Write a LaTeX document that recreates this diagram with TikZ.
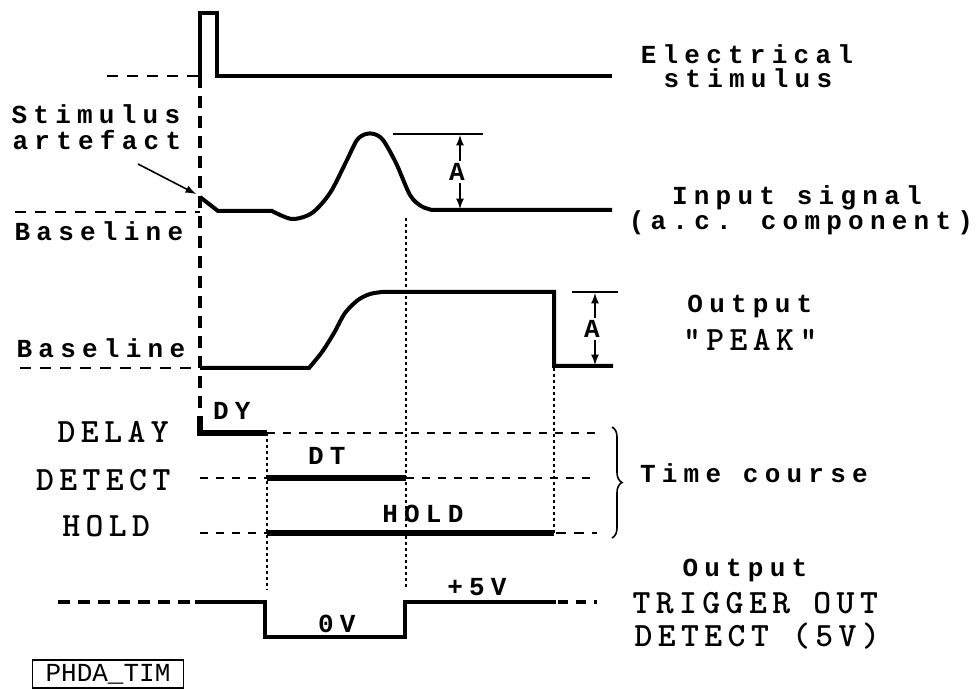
\documentclass[tikz,border=0pt]{standalone}
\usepackage{fontspec}
\usepackage{tikz}
\usetikzlibrary{arrows}
\usetikzlibrary{decorations.pathreplacing}
\newfontfamily\pixfont[LetterSpace=24]{Liberation Mono}
\newfontfamily\capfont[LetterSpace=16]{lmmonolt10-bold.otf}
\newfontfamily\tagfont{Liberation Mono}
\tikzstyle{trace}=[line width=2pt]
\tikzstyle{bar}=[line width=3pt]
\tikzstyle{zeroline}=[line width=1.1pt, dash pattern=on 5.5pt off 4.5pt]
\tikzstyle{onsetline}=[line width=2pt, dash pattern=on 6pt off 4pt]
\tikzstyle{rowline}=[line width=1pt, dash pattern=on 4pt off 4pt]
\tikzstyle{timeline}=[line width=0.8pt, dash pattern=on 1.5pt off 1.5pt]
\tikzstyle{txt}=[font=\pixfont\bfseries\fontsize{13}{15}\selectfont, inner sep=0pt, anchor=base, xshift=-1.55pt]
\tikzstyle{captxt}=[font=\capfont\fontsize{17}{19}\selectfont, inner sep=0pt, anchor=base, xshift=-1.4pt]
\tikzstyle{amp}=[font=\pixfont\bfseries\fontsize{13}{15}\selectfont, inner sep=1pt, fill=white, xshift=-1.55pt]

\begin{document}
\begin{tikzpicture}[x=0.5pt,y=-0.5pt]
    \useasboundingbox (0,0) rectangle (980,689);
    % electrical stimulus
    \draw[zeroline] (107,76) -- (200,76);
    \draw[trace] (200,76) -- (200,13) -- (217,13) -- (217,76) -- (612,76);
    \draw[onsetline] (200,76) -- (200,416);
    \node[txt] (stim1) at (750,64) {Electrical};
    \node[txt] (stim2) at (751,88) {stimulus};
    % input signal
    \draw[zeroline] (15,212) -- (200,212);
    \draw[trace] (200,197) -- (218,211) -- (272,211) -- plot[smooth, tension=0.5] coordinates {(272,211) (292,219) (312,213) (330,193) (346,162) (357,140) (366,134) (374,134) (383,140) (396,163) (410,195) (421,206) (432,210)} -- (612,210);
    \node[txt] (art1) at (99,124) {Stimulus};
    \node[txt] (art2) at (100,150) {artefact};
    \coordinate (tail) at (138,164);
    \coordinate (spike) at (196,194);
    \draw[line width=0.8pt, -latex] (tail) -- (spike);
    \node[txt] (base1) at (102,241) {Baseline};
    \node[txt] (in1) at (800,205) {Input signal};
    \node[txt] (in2) at (804,230) {(a.c. component)};
    \draw[line width=0.8pt] (393,134) -- (483,134);
    \draw[line width=0.8pt, latex-latex] (460,135) -- (460,209) node[midway, amp] (ampin) {A};
    % output peak
    \draw[zeroline] (20,368) -- (200,368);
    \draw[trace] (200,368) -- (309,368) -- plot[smooth, tension=0.5] coordinates {(309,368) (322,352) (334,333) (345,313) (358,300) (370,294) (382,292)} -- (554,292) -- (554,366) -- (613,366);
    \draw[line width=0.8pt] (572,292) -- (618,292);
    \draw[line width=0.8pt, latex-latex] (595,293) -- (595,365) node[midway, amp] (ampout) {A};
    \node[txt] (base2) at (104,358) {Baseline};
    \node[txt] (out1) at (753,313) {Output};
    \node[captxt] (out2) at (753,351) {"PEAK"};
    % time course
    \draw[bar] (200,416) -- (200,433) -- (267,433);
    \draw[rowline] (267,433) -- (597,433);
    \draw[rowline] (200,478) -- (267,478);
    \draw[bar] (267,478) -- (406,478);
    \draw[rowline] (406,478) -- (597,478);
    \draw[rowline] (200,533) -- (267,533);
    \draw[bar] (267,533) -- (554,533);
    \draw[line width=1pt, dash pattern=on 5pt off 4pt] (556,533) -- (597,533);
    \draw[timeline] (267,433) -- (267,590);
    \draw[timeline] (406,218) -- (406,590);
    \draw[timeline] (554,368) -- (554,533);
    \node[captxt] (delay) at (116,443) {DELAY};
    \node[captxt] (detect) at (106,491) {DETECT};
    \node[captxt] (hold) at (109,537) {HOLD};
    \node[txt] (dy) at (235,420) {DY};
    \node[txt] (dt) at (330,465) {DT};
    \node[txt] (holdbar) at (426,523) {HOLD};
    \draw[line width=0.8pt, decorate, decoration={brace, amplitude=5pt}] (612,427) -- (612,538);
    \node[txt] (course) at (757,482) {Time course};
    % trigger out
    \draw[onsetline] (58,602) -- (195,602);
    \draw[trace] (195,602) -- (265,602) -- (265,637) -- (405,637) -- (405,602) -- (556,602);
    \draw[line width=2pt, dash pattern=on 5pt off 4pt] (558,602) -- (597,602);
    \node[txt] (zero) at (340,632) {0V};
    \node[txt] (five) at (480,595) {+5V};
    \node[txt] (trig1) at (748,576) {Output};
    \node[captxt] (trig2) at (758,613) {TRIGGER OUT};
    \node[captxt] (trig3) at (760,646) {DETECT (5V)};
    \node[draw, line width=0.8pt, font=\tagfont\fontsize{13}{15}\selectfont, minimum width=75.5pt, minimum height=14pt, inner sep=0pt] (tag) at (108,674) {PHDA\_TIM};
\end{tikzpicture}
\end{document}
